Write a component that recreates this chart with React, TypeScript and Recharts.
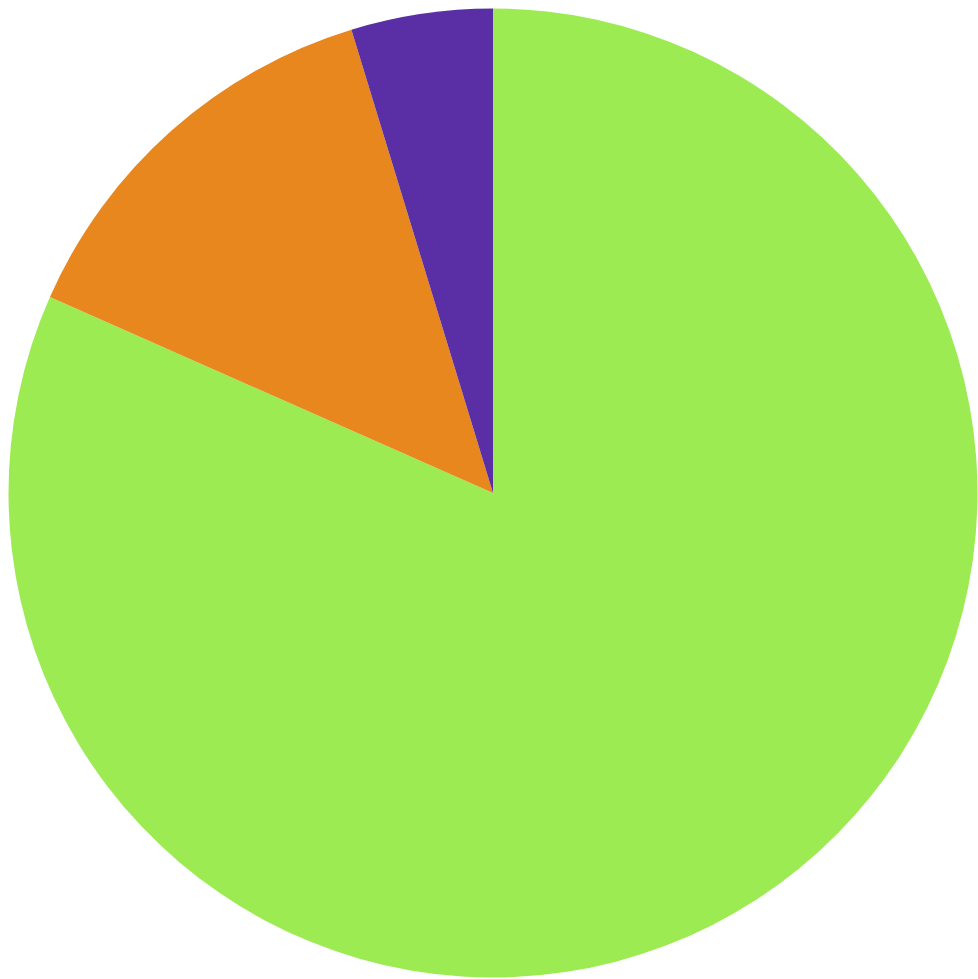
import React from "react";
import { PieChart, Pie, Cell } from "recharts";

// slice shares (percent)
const categories = ["Green", "Orange", "Purple"];
const values = [81.63, 13.65, 4.72];
const colors = ["#9DEB53", "#E8871E", "#5A2FA5"];

const data = categories.map((name, i) => ({ name, value: values[i] }));

const App = () => {
  return (
    <div style={{ position: "absolute", left: 0, top: 0, width: 978, height: 979, background: "#fff" }}>
      <PieChart width={978} height={979} margin={{ top: 0, right: 0, bottom: 0, left: 0 }}>
        <Pie
          data={data}
          dataKey="value"
          cx={493}
          cy={493}
          innerRadius={0}
          outerRadius={484.5}
          startAngle={90}
          endAngle={-270}
          stroke="none"
          isAnimationActive={false}
        >
          {data.map((entry, i) => (
            <Cell key={entry.name} fill={colors[i]} />
          ))}
        </Pie>
      </PieChart>
    </div>
  );
};

export default App;
